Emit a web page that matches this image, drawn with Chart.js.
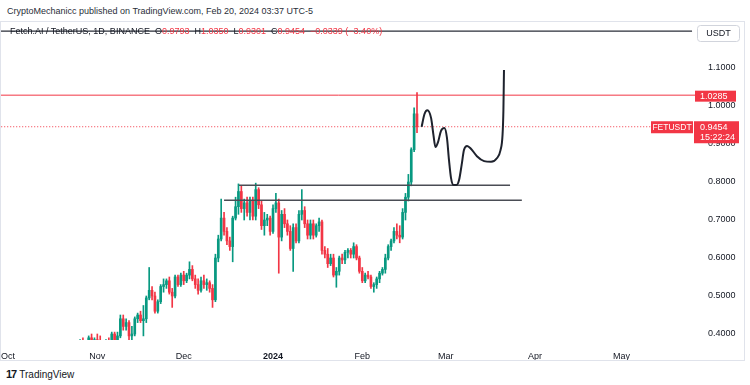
<!DOCTYPE html>
<html><head><meta charset="utf-8">
<script src="https://cdn.jsdelivr.net/npm/chart.js@4.4.1/dist/chart.umd.min.js"></script>
<style>
html,body{margin:0;padding:0;background:#fff;}
body{width:750px;height:385px;position:relative;overflow:hidden;font-family:'Liberation Sans',Arial,sans-serif;color:#131722;}
#hdr{position:absolute;left:7px;top:6px;font-size:9px;line-height:11px;color:#2a2e39;white-space:nowrap;}
#frame{position:absolute;left:0;top:21px;width:743px;height:338px;border:1px solid #e0e3eb;overflow:hidden;}
#wrap{position:absolute;left:-21px;top:0;width:764px;height:338px;}
#legend{position:absolute;left:10px;top:26px;font-size:9px;line-height:11px;white-space:nowrap;color:#131722;}
#legend .r{color:#F23645;}
#foot{position:absolute;left:6px;top:368px;font-size:10px;line-height:12px;color:#131722;white-space:nowrap;}
#foot b{font-weight:900;font-size:11px;letter-spacing:-1px;margin-right:3px;}
</style></head>
<body>
<div id="hdr">CryptoMechanicc published on TradingView.com, Feb 20, 2024 03:37 UTC-5</div>
<div id="frame"><div id="wrap"><canvas id="c" width="764" height="338" style="width:764px;height:338px;display:block"></canvas></div></div>
<div id="legend">Fetch.AI / TetherUS, 1D, BINANCE&nbsp; O<span class="r">0.9793</span>&nbsp; H<span class="r">1.0350</span>&nbsp; L<span class="r">0.9301</span>&nbsp; C<span class="r">0.9454</span>&nbsp; <span class="r">−0.0339 (−3.40%)</span></div>
<div id="foot"><b>17</b>TradingView</div>
<script>
// ---- data: daily candles, first candle = 26 Oct 2023 (day -67 relative to 1 Jan 2024) ----
const firstDay = -67;
const opens = [
 0.360,0.375,0.365,0.370,0.390,0.375,
 0.385,0.380,0.365,0.370,0.380,0.375,0.400,0.380,0.395,0.440,0.420,0.430,0.395,0.400,0.440,0.450,0.435,0.440,0.495,0.515,0.500,0.460,0.485,0.525,0.530,0.540,0.510,0.500,0.550,0.530,
 0.555,0.540,0.555,0.570,0.545,0.530,0.515,0.540,0.530,0.535,0.520,0.490,0.600,0.650,0.705,0.670,0.645,0.630,0.705,0.735,0.775,0.730,0.745,0.720,0.750,0.710,0.780,0.740,0.685,0.700,0.705,
 0.670,0.730,0.745,0.655,0.715,0.690,0.670,0.625,0.680,0.645,0.715,0.725,0.690,0.660,0.690,0.660,0.685,0.695,0.620,0.610,0.585,0.600,0.555,0.565,0.600,0.595,0.615,0.620,0.610,0.630,0.600,
 0.565,0.540,0.555,0.550,0.525,0.530,0.545,0.560,0.570,0.600,0.630,0.645,0.670,0.660,0.655,0.720,0.760,0.800,0.885,0.9793];
const highs = [
 0.385,0.390,0.380,0.395,0.400,0.390,
 0.400,0.395,0.380,0.385,0.390,0.405,0.405,0.405,0.450,0.450,0.440,0.435,0.420,0.445,0.455,0.460,0.475,0.500,0.575,0.525,0.510,0.490,0.530,0.545,0.545,0.550,0.520,0.555,0.555,0.560,
 0.565,0.560,0.590,0.580,0.555,0.545,0.550,0.555,0.545,0.540,0.530,0.610,0.660,0.755,0.720,0.680,0.655,0.710,0.760,0.795,0.790,0.755,0.760,0.760,0.760,0.797,0.785,0.750,0.720,0.715,0.710,
 0.740,0.770,0.755,0.725,0.730,0.700,0.685,0.690,0.690,0.725,0.780,0.735,0.700,0.700,0.700,0.690,0.705,0.700,0.630,0.625,0.610,0.610,0.575,0.605,0.610,0.620,0.625,0.625,0.640,0.635,0.605,
 0.575,0.560,0.565,0.555,0.535,0.550,0.565,0.575,0.610,0.635,0.650,0.680,0.690,0.685,0.730,0.770,0.820,0.890,0.995,1.035];
const lows = [
 0.350,0.360,0.355,0.365,0.370,0.365,
 0.365,0.360,0.350,0.360,0.365,0.370,0.375,0.375,0.390,0.410,0.410,0.385,0.380,0.395,0.430,0.430,0.395,0.430,0.490,0.490,0.455,0.455,0.480,0.510,0.520,0.505,0.470,0.495,0.525,0.525,
 0.530,0.535,0.545,0.540,0.520,0.505,0.510,0.520,0.515,0.510,0.470,0.485,0.590,0.645,0.660,0.635,0.620,0.590,0.700,0.715,0.720,0.700,0.710,0.700,0.700,0.700,0.730,0.675,0.660,0.685,0.660,
 0.665,0.720,0.560,0.645,0.680,0.660,0.620,0.565,0.640,0.640,0.700,0.680,0.650,0.650,0.650,0.655,0.670,0.610,0.600,0.575,0.580,0.550,0.523,0.555,0.585,0.585,0.600,0.600,0.600,0.595,0.560,
 0.535,0.535,0.545,0.520,0.510,0.520,0.535,0.555,0.560,0.595,0.620,0.640,0.650,0.640,0.650,0.700,0.750,0.790,0.880,0.9301];
const closes = [
 0.375,0.365,0.370,0.390,0.375,0.385,
 0.380,0.365,0.370,0.380,0.375,0.400,0.380,0.395,0.440,0.420,0.430,0.395,0.400,0.440,0.450,0.435,0.440,0.495,0.515,0.500,0.460,0.485,0.525,0.530,0.540,0.510,0.500,0.550,0.530,0.555,
 0.540,0.555,0.570,0.545,0.530,0.515,0.540,0.530,0.535,0.520,0.490,0.600,0.650,0.705,0.670,0.645,0.630,0.705,0.735,0.775,0.730,0.745,0.720,0.750,0.710,0.780,0.740,0.685,0.700,0.705,0.670,
 0.730,0.745,0.655,0.715,0.690,0.670,0.625,0.680,0.645,0.715,0.725,0.690,0.660,0.690,0.660,0.685,0.695,0.620,0.610,0.585,0.600,0.555,0.565,0.600,0.595,0.615,0.620,0.610,0.630,0.600,0.565,
 0.540,0.555,0.550,0.525,0.530,0.545,0.560,0.570,0.600,0.630,0.645,0.670,0.660,0.655,0.720,0.760,0.800,0.885,0.9793,0.9454];

// time-axis ticks (days relative to 1 Jan 2024) and their labels
const monthTicks  = [-92, -61, -31, 0, 31, 60, 91, 121];
const monthLabels = ['Oct','Nov','Dec','2024','Feb','Mar','Apr','May'];
// price-axis ticks
const priceTicks = [0.4,0.5,0.6,0.7,0.8,0.9,1.0,1.1];

// drawn forecast path (day, price)
const forecastDays   = [51.6,52.6,53.6,54.9,55.7,56.4,57.3,58.3,59.5,60.4,61.1,61.8,62.7,63.7,64.6,65.5,66.3,67.4,68.8,70.8,73.3,75.7,77.8,79.0,79.7,80.0,80.2];
const forecastPrices = [0.945,0.979,0.989,0.968,0.924,0.892,0.905,0.934,0.942,0.916,0.858,0.811,0.792,0.792,0.805,0.845,0.884,0.895,0.887,0.868,0.855,0.853,0.863,0.884,0.924,0.989,1.095];

// horizontal drawings: [startDay, endDay, price]
const upperLevel = [-11.8, 82.3, 0.7915];
const lowerLevel = [-17.0, 86.4, 0.752];
const topLevel   = [-110, 145.5, 1.197];
const highLevel  = [-110, 160, 1.0285];
const lastPrice  = [-110, 131.2, 0.9454];

const UP = '#089981', DOWN = '#F23645';
const days = opens.map((_, i) => firstDay + i);
const colorAt = i => closes[i] >= opens[i] ? UP : DOWN;
const hline = a => [{x:a[0], y:a[2]}, {x:a[1], y:a[2]}];

Chart.defaults.font.family = "'Liberation Sans', Arial, sans-serif";
Chart.defaults.font.size = 9;
Chart.defaults.color = '#131722';

const labelsPlugin = {
  id: 'priceLabels',
  afterDraw(chart) {
    const ctx = chart.ctx, y = chart.scales.y;
    ctx.save();
    ctx.font = "9px 'Liberation Sans', Arial, sans-serif";
    ctx.textBaseline = 'middle';
    // USDT currency box
    ctx.fillStyle = '#fff'; ctx.strokeStyle = '#d1d4dc'; ctx.lineWidth = 1;
    ctx.beginPath(); ctx.roundRect(717.5, 3.5, 42, 16, 3); ctx.fill(); ctx.stroke();
    ctx.fillStyle = '#131722'; ctx.textAlign = 'center';
    ctx.fillText('USDT', 738.5, 12);
    // 1.0285 level box
    const p1 = y.getPixelForValue(highLevel[2]);
    ctx.fillStyle = '#F23645';
    ctx.fillRect(715, p1 - 4.5, 41, 11);
    ctx.fillStyle = '#fff'; ctx.textAlign = 'left';
    ctx.fillText('1.0285', 720, p1 + 1);
    // last price boxes
    const p2 = y.getPixelForValue(lastPrice[2]);
    ctx.fillStyle = '#F23645';
    ctx.fillRect(714, p2 - 5.5, 45, 22);
    ctx.fillRect(671, p2 - 5.5, 42, 12);
    ctx.fillStyle = '#fff';
    ctx.fillText('0.9454', 720, p2 + 0.5);
    ctx.fillText('15:22:24', 720, p2 + 11);
    ctx.textAlign = 'center';
    ctx.font = "8.5px 'Liberation Sans', Arial, sans-serif";
    ctx.fillText('FETUSDT', 692, p2 + 0.5);
    ctx.restore();
  }
};

new Chart(document.getElementById('c'), {
  type: 'bar',
  data: {
    datasets: [
      { type:'line', data: forecastDays.map((d,i)=>({x:d, y:forecastPrices[i]})), borderColor:'#1e222d', borderWidth:2,
        pointRadius:0, cubicInterpolationMode:'monotone', fill:false, order:0 },
      { type:'line', data: hline(upperLevel), borderColor:'#4a4d55', borderWidth:1.5, pointRadius:0, order:0 },
      { type:'line', data: hline(lowerLevel), borderColor:'#4a4d55', borderWidth:1.5, pointRadius:0, order:0 },
      { type:'line', data: hline(topLevel),   borderColor:'#2a2e39', borderWidth:1.2, pointRadius:0, order:0 },
      { type:'line', data: hline(highLevel),  borderColor:'#F23645', borderWidth:1, pointRadius:0, order:1 },
      { type:'line', data: hline(lastPrice),  borderColor:'#F23645', borderWidth:1, borderDash:[1,2], pointRadius:0, order:1 },
      { type:'bar', data: days.map((d,i)=>({x:d, y:[opens[i], closes[i]]})), backgroundColor: c => colorAt(c.dataIndex),
        barThickness:2, grouped:false, minBarLength:1, borderWidth:0, order:2 },
      { type:'bar', data: days.map((d,i)=>({x:d, y:[lows[i], highs[i]]})), backgroundColor: c => colorAt(c.dataIndex),
        barThickness:1, grouped:false, borderWidth:0, order:3 }
    ]
  },
  options: {
    responsive:false, animation:false, devicePixelRatio:1,
    layout:{padding:0},
    plugins:{legend:{display:false}, tooltip:{enabled:false}},
    scales:{
      x:{ type:'linear', position:'bottom', min:-101.74, max:147.22, offset:false,
          grid:{display:false}, border:{display:false},
          ticks:{ autoSkip:false, maxRotation:0, padding:3, color:'#131722',
                  font: c => ({size:9, weight: (c.tick && c.tick.value===0) ? 'bold' : 'normal'}),
                  callback:(v,i)=>monthLabels[i] },
          afterBuildTicks: s => { s.ticks = monthTicks.map(v=>({value:v})); },
          afterFit: s => { s.height = 20; s.paddingLeft = 0; s.paddingRight = 0; } },
      y:{ type:'linear', position:'right', min:0.38421, max:1.22105,
          grid:{display:false}, border:{display:false},
          ticks:{ padding:3, color:'#131722', callback: v => Number(v).toFixed(4) },
          afterBuildTicks: s => { s.ticks = priceTicks.map(v=>({value:v})); },
          afterFit: s => { s.width = 47; s.paddingTop = 0; s.paddingBottom = 0; } }
    }
  },
  plugins:[labelsPlugin]
});
</script>
</body></html>
